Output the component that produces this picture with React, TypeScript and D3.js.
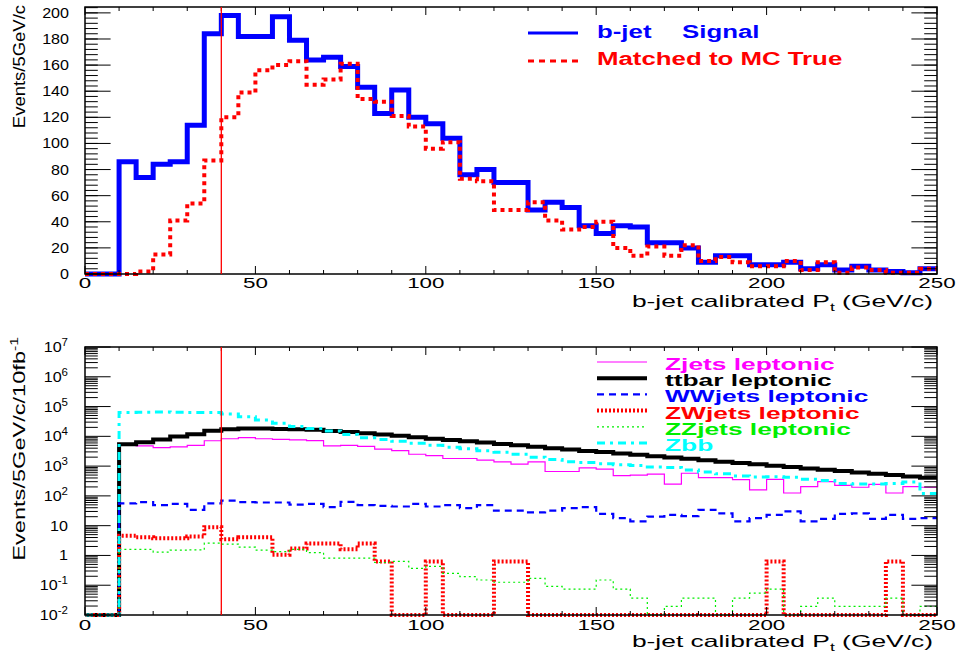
import * as d3 from 'd3';
import React, { useEffect, useRef } from 'react';

// lower edges of the 5 GeV/c bins
const binLow = [
  0, 5, 10, 15, 20, 25, 30, 35, 40, 45, 50, 55, 60, 65, 70, 75, 80, 85, 90, 95,
  100, 105, 110, 115, 120, 125, 130, 135, 140, 145, 150, 155, 160, 165, 170, 175, 180, 185, 190, 195,
  200, 205, 210, 215, 220, 225, 230, 235, 240, 245,
];
const binWidth = 5;
const ptCut = 40;

// top panel
const bjetSignal = [
  0, 0, 86, 74, 84, 86, 114, 184, 198, 182, 182, 197, 179, 164, 166, 159, 143, 123, 141, 120,
  115, 104, 76, 80, 70, 70, 49, 55, 51, 37, 31, 37, 36, 24, 24, 20, 9, 14, 14, 7,
  7, 9, 4, 7, 3, 6, 3, 2, 1, 4,
];
const matchedMC = [
  0, 0, 0, 2, 15, 41, 54, 87, 120, 139, 156, 160, 163, 145, 149, 161, 134, 132, 121, 113,
  96, 101, 73, 71, 49, 49, 55, 41, 34, 36, 40, 20, 14, 21, 14, 22, 10, 13, 9, 6,
  6, 10, 3, 9, 1, 5, 3, 1, 1, 4,
];

// bottom panel (events / 5 GeV/c / 10 fb^-1)
const zjets = [
  0, 0, 5100, 4800, 4200, 4450, 5000, 7100, 8300, 9100, 8300, 7900, 7600, 7200, 4800, 5000, 4600, 3700, 3300, 2500,
  2250, 1800, 1800, 1600, 1380, 1170, 1380, 660, 660, 870, 790, 480, 500, 540, 250, 575, 410, 410, 350, 160,
  360, 125, 205, 300, 225, 195, 245, 125, 205, 195,
];
const ttbar = [
  0, 0, 5400, 6300, 7900, 9800, 11700, 15500, 17400, 18200, 18200, 17800, 17400, 16600, 15100, 14100, 12600, 11500, 10500, 9300,
  8300, 7600, 6800, 6200, 5500, 5000, 4500, 4000, 3600, 3200, 2950, 2650, 2400, 2150, 1950, 1750, 1580, 1400, 1270, 1150,
  1030, 930, 830, 760, 680, 610, 550, 500, 450, 405,
];
const wwjets = [
  0, 0, 56, 62, 49, 54, 34, 56, 69, 62, 60, 60, 51, 54, 42, 63, 49, 46, 44, 54,
  44, 49, 39, 49, 32, 32, 28, 32, 39, 42, 25, 18, 14, 20, 23, 21, 34, 26, 14, 18,
  23, 30, 14, 17, 25, 26, 17, 23, 17, 18,
];
const zwjets = [
  0, 0, 4.6, 4.1, 3.8, 3.8, 4.3, 8.9, 3.5, 4.1, 4.1, 1.05, 1.7, 2.5, 2.5, 1.6, 2.5, 0.63, 0, 0,
  0.63, 0, 0, 0, 0.63, 0.63, 0, 0, 0, 0, 0, 0, 0, 0, 0, 0, 0, 0, 0, 0,
  0.63, 0, 0, 0, 0, 0, 0, 0.63, 0, 0,
];
const zzjets = [
  0, 0, 1.6, 1.6, 1.3, 1.5, 1.55, 2.6, 2.4, 1.9, 1.5, 1.35, 1.6, 1.25, 0.81, 0.81, 0.81, 0.58, 0.63, 0.37,
  0.43, 0.25, 0.195, 0.15, 0.126, 0.126, 0.17, 0.091, 0.074, 0.074, 0.15, 0.074, 0.037, 0, 0.0195, 0.037, 0.037, 0, 0.037, 0.054,
  0.074, 0, 0.0195, 0.037, 0.0195, 0.0195, 0.0195, 0.037, 0, 0.0195,
];
const zbb = [
  0, 0, 63000, 64500, 66000, 64500, 63000, 63000, 56000, 45700, 35500, 27500, 21400, 18200, 15100, 11500, 8900, 7900, 6900, 5900,
  5000, 4300, 3800, 3300, 2900, 2500, 2000, 1660, 1400, 1320, 1200, 1120, 1050, 930, 890, 740, 630, 550, 470, 430,
  440, 420, 360, 330, 260, 250, 250, 260, 290, 120,
];

const topNames = ['b-jet', 'Matched to MC True'];
const bottomNames = ['Zjets leptonic', 'ttbar leptonic', 'WWjets leptonic', 'ZWjets leptonic', 'ZZjets leptonic', 'Zbb'];
const bottomSeries = [zjets, ttbar, wwjets, zwjets, zzjets, zbb];

const bottomStyle = [
  { color: '#ff00ff', width: 1.2, dash: null },
  { color: '#000000', width: 4, dash: null },
  { color: '#0000ff', width: 2.2, dash: '7,5' },
  { color: '#ff0000', width: 4, dash: '2,2' },
  { color: '#00ee00', width: 1.2, dash: '2,3' },
  { color: '#00ffff', width: 3, dash: '8,5,3,5' },
];

const FONT = "'Liberation Sans', Arial, Helvetica, sans-serif";

const App = () => {
  const svgRef = useRef<SVGSVGElement>(null);

  useEffect(() => {
    const svg = d3.select(svgRef.current);
    svg.selectAll('*').remove();

    const left = 85;
    const right = 937;
    const x = d3.scaleLinear().domain([0, 250]).range([left, right]);
    const yTop = d3.scaleLinear().domain([0, 204.5]).range([274, 7]);
    const yBot = d3.scaleLog().domain([1e-2, 1e7]).range([615, 347]);

    const addText = (
      g: any, str: string, tx: number, ty: number,
      o: { size: number; sx?: number; anchor?: string; weight?: string; fill?: string; rot?: number }
    ) => {
      const t = g
        .append('text')
        .attr('transform', `translate(${tx},${ty}) rotate(${o.rot || 0}) scale(${o.sx || 1},1)`)
        .attr('font-family', FONT)
        .attr('font-size', o.size)
        .attr('font-weight', o.weight || 'normal')
        .attr('fill', o.fill || '#000')
        .attr('text-anchor', o.anchor || 'start')
        .text(str);
      return t;
    };

    const drawFrame = (y: any, yMajor: number[], yMinor: number[], labelY: number) => {
      const g = svg.append('g');
      const [y0, y1] = y.range();
      // x ticks, bottom and top
      const xMajor = x.ticks(5);
      const xMinor = x.ticks(25);
      xMinor.forEach((v) => {
        const len = xMajor.includes(v) ? 8 : 4;
        g.append('line').attr('x1', x(v)).attr('x2', x(v)).attr('y1', y0).attr('y2', y0 - len).attr('stroke', '#000');
        g.append('line').attr('x1', x(v)).attr('x2', x(v)).attr('y1', y1).attr('y2', y1 + len).attr('stroke', '#000');
      });
      // y ticks, left and right
      yMinor.forEach((v) => {
        g.append('line').attr('x1', left).attr('x2', left + 12.8).attr('y1', y(v)).attr('y2', y(v)).attr('stroke', '#000');
        g.append('line').attr('x1', right).attr('x2', right - 12.8).attr('y1', y(v)).attr('y2', y(v)).attr('stroke', '#000');
      });
      yMajor.forEach((v) => {
        g.append('line').attr('x1', left).attr('x2', left + 25.6).attr('y1', y(v)).attr('y2', y(v)).attr('stroke', '#000');
        g.append('line').attr('x1', right).attr('x2', right - 25.6).attr('y1', y(v)).attr('y2', y(v)).attr('stroke', '#000');
      });
      xMajor.forEach((v) => {
        addText(g, String(v), x(v), labelY, { size: 14, sx: 1.6, anchor: 'middle' });
      });
      g.append('rect')
        .attr('x', left).attr('y', y1).attr('width', right - left).attr('height', y0 - y1)
        .attr('fill', 'none').attr('stroke', '#000').attr('stroke-width', 1.5);
      // pt cut
      svg.append('line')
        .attr('x1', x(ptCut)).attr('x2', x(ptCut)).attr('y1', y0).attr('y2', y1)
        .attr('stroke', '#ff0000').attr('stroke-width', 1.3);
      return g;
    };

    const stepPoints = (vals: number[], floor: number) => {
      const pts = vals.map((v, i) => [binLow[i], Math.max(v, floor)] as [number, number]);
      pts.push([binLow[binLow.length - 1] + binWidth, Math.max(vals[vals.length - 1], floor)]);
      return pts;
    };

    // ---------- top panel ----------
    const lineTop = d3.line<[number, number]>().x((d) => x(d[0])).y((d) => yTop(d[1])).curve(d3.curveStepAfter);
    svg.append('path').datum(stepPoints(bjetSignal, 0)).attr('d', lineTop)
      .attr('fill', 'none').attr('stroke', '#0000ff').attr('stroke-width', 5);
    svg.append('path').datum(stepPoints(matchedMC, 0)).attr('d', lineTop)
      .attr('fill', 'none').attr('stroke', '#ff0000').attr('stroke-width', 4).attr('stroke-dasharray', '4,4');

    const topMajor = yTop.ticks(10);
    const topMinor = d3.range(0, 204.5, 4);
    drawFrame(yTop, topMajor, topMinor, 288);
    topMajor.forEach((v) => addText(svg, String(v), 69, yTop(v) + 5, { size: 14, sx: 1.15, anchor: 'end' }));

    const tTitle = addText(svg, 'b-jet calibrated P', 933, 307, { size: 16.5, sx: 1.6, anchor: 'end' });
    tTitle.append('tspan').attr('font-size', 11).attr('dy', 4).text('t');
    tTitle.append('tspan').attr('dy', -4).text(' (GeV/c)');
    addText(svg, 'Events/5GeV/c', 25, 5, { size: 16.5, sx: 1.12, anchor: 'end', rot: -90 });

    // legend
    svg.append('line').attr('x1', 528).attr('x2', 578).attr('y1', 33).attr('y2', 33)
      .attr('stroke', '#0000ff').attr('stroke-width', 3);
    svg.append('line').attr('x1', 528).attr('x2', 578).attr('y1', 61).attr('y2', 61)
      .attr('stroke', '#ff0000').attr('stroke-width', 3).attr('stroke-dasharray', '6,5');
    addText(svg, topNames[0], 597, 38, { size: 19, sx: 1.36, weight: 'bold', fill: '#0000ff' });
    addText(svg, 'Signal', 682, 38, { size: 19, sx: 1.36, weight: 'bold', fill: '#0000ff' });
    addText(svg, topNames[1], 597, 65, { size: 19, sx: 1.36, weight: 'bold', fill: '#ff0000' });

    // ---------- bottom panel ----------
    const lineBot = d3.line<[number, number]>().x((d) => x(d[0])).y((d) => yBot(d[1])).curve(d3.curveStepAfter);
    bottomSeries.forEach((vals, i) => {
      const s = bottomStyle[i];
      svg.append('path').datum(stepPoints(vals, 1e-2)).attr('d', lineBot)
        .attr('fill', 'none').attr('stroke', s.color).attr('stroke-width', s.width)
        .attr('stroke-dasharray', s.dash);
    });

    const decades = d3.range(-2, 8);
    const botMajor = decades.map((d) => Math.pow(10, d));
    const botMinor: number[] = [];
    decades.slice(0, -1).forEach((d) => [2, 3, 4, 5, 6, 7, 8, 9].forEach((k) => botMinor.push(k * Math.pow(10, d))));
    drawFrame(yBot, botMajor, botMinor, 630);
    decades.forEach((d) => {
      const yy = yBot(Math.pow(10, d)) + 5;
      if (d === 0 || d === 1) {
        addText(svg, d === 0 ? '1' : '10', 68, yy, { size: 14, sx: 1.15, anchor: 'end' });
      } else {
        const t = addText(svg, '10', 68, yy, { size: 14, sx: 1.15, anchor: 'end' });
        t.append('tspan').attr('font-size', 10).attr('dy', -6).text(String(d));
      }
    });

    const bTitle = addText(svg, 'b-jet calibrated P', 933, 647, { size: 16.5, sx: 1.6, anchor: 'end' });
    bTitle.append('tspan').attr('font-size', 11).attr('dy', 4).text('t');
    bTitle.append('tspan').attr('dy', -4).text(' (GeV/c)');
    const yT = addText(svg, 'Events/5GeV/c/10fb', 25, 337, { size: 16.5, sx: 1.43, anchor: 'end', rot: -90 });
    yT.append('tspan').attr('font-size', 11).attr('dy', -7).text('-1');

    bottomNames.forEach((name, i) => {
      const s = bottomStyle[i];
      const base = 370 + i * 16.2;
      svg.append('line').attr('x1', 597).attr('x2', 647).attr('y1', base - 8).attr('y2', base - 8)
        .attr('stroke', s.color).attr('stroke-width', s.width).attr('stroke-dasharray', s.dash);
      addText(svg, name, 665, base, { size: 17, sx: 1.55, weight: 'bold', fill: s.color });
    });
  }, []);

  return (
    <svg
      ref={svgRef}
      width={957}
      height={656}
      style={{ position: 'absolute', left: 0, top: 0, background: '#fff' }}
    />
  );
};

export default App;
